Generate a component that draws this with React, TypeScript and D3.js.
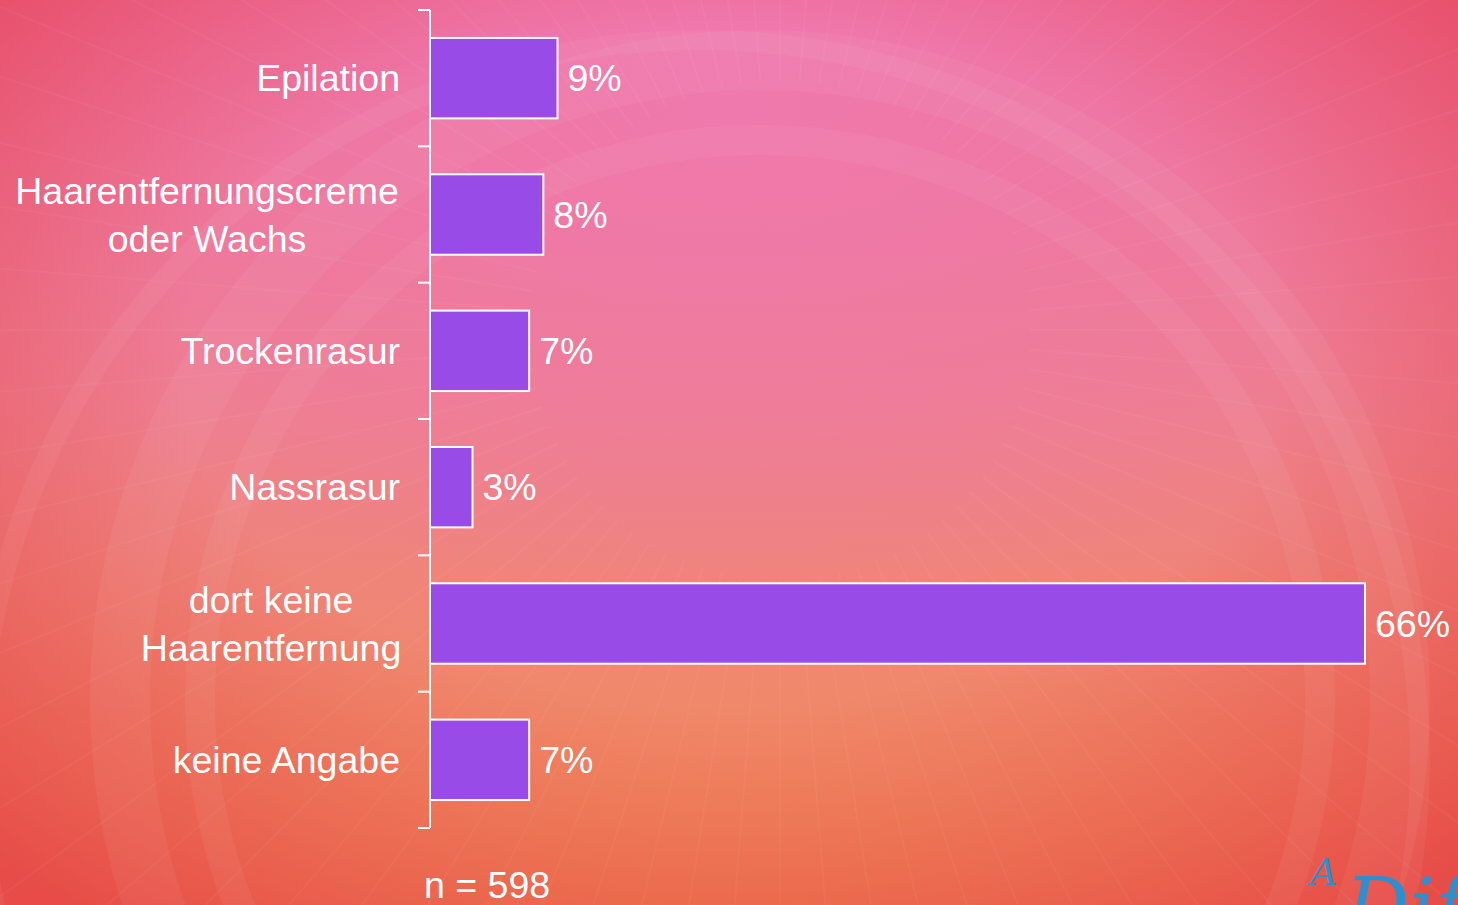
import React from "react";
import * as d3 from "d3";

const categories = [
  ["Epilation"],
  ["Haarentfernungscreme", "oder Wachs"],
  ["Trockenrasur"],
  ["Nassrasur"],
  ["dort keine", "Haarentfernung"],
  ["keine Angabe"],
];
const values = [9, 8, 7, 3, 66, 7];
const sampleNote = "n = 598";

const W = 1458;
const H = 905;

const App = () => {
  const keys = categories.map((c, i) => String(i));
  const y = d3.scaleBand().domain(keys).range([10, 828]).paddingInner(0.41).paddingOuter(0.205);
  const x = d3.scaleLinear().domain([0, 66]).range([430, 1365]);
  const step = y.step();
  const ticks = d3.range(categories.length + 1).map((i) => 10 + i * step);

  // background decoration
  const rayAngles = d3.range(0, 360, 4.5);
  const arcs = [
    { cx: 760, cy: 700, r: 640, w: 60 },
    { cx: 760, cy: 700, r: 560, w: 30 },
    { cx: 700, cy: 760, r: 720, w: 20 },
  ];

  return (
    <svg width={W} height={H} style={{ position: "absolute", left: 0, top: 0 }} fontFamily="'Liberation Sans', Arial, sans-serif">
      <defs>
        <linearGradient id="bgLin" x1="0" y1="0" x2="0" y2="1">
          <stop offset="0" stopColor="#ed6f9f" />
          <stop offset="0.45" stopColor="#ee7e8e" />
          <stop offset="0.8" stopColor="#f08a68" />
          <stop offset="1" stopColor="#f29658" />
        </linearGradient>
        <radialGradient id="glow" cx="0.5" cy="0.12" r="0.55">
          <stop offset="0" stopColor="#f07ab0" stopOpacity="0.85" />
          <stop offset="1" stopColor="#f07ab0" stopOpacity="0" />
        </radialGradient>
        <radialGradient id="edge" cx="0.5" cy="0.4" r="0.75">
          <stop offset="0.5" stopColor="#e43a44" stopOpacity="0" />
          <stop offset="1" stopColor="#e43a44" stopOpacity="0.8" />
        </radialGradient>
      </defs>
      <rect width={W} height={H} fill="url(#bgLin)" />
      <rect width={W} height={H} fill="url(#glow)" />
      <rect width={W} height={H} fill="url(#edge)" />
      <g stroke="#ffffff" strokeOpacity={0.04}>
        {rayAngles.map((a) => {
          const rad = (a * Math.PI) / 180;
          return (
            <line
              key={a}
              x1={780 + 250 * Math.cos(rad)}
              y1={330 + 250 * Math.sin(rad)}
              x2={780 + 1600 * Math.cos(rad)}
              y2={330 + 1600 * Math.sin(rad)}
              strokeWidth={2}
            />
          );
        })}
      </g>
      <g fill="none" stroke="#ffffff" strokeOpacity={0.05}>
        {arcs.map((c, i) => (
          <circle key={i} cx={c.cx} cy={c.cy} r={c.r} strokeWidth={c.w} />
        ))}
      </g>

      {/* axis */}
      <g stroke="#ffffff" strokeWidth={2} fill="none">
        <line x1={430} x2={430} y1={10} y2={828} />
        {ticks.map((t) => (
          <line key={t} x1={418} x2={430} y1={t} y2={t} />
        ))}
      </g>

      {/* bars */}
      {values.map((v, i) => (
        <rect
          key={i}
          x={x(0)}
          y={y(String(i))}
          width={x(v) - x(0)}
          height={y.bandwidth()}
          fill="#994be8"
          stroke="#ffffff"
          strokeWidth={2}
        />
      ))}

      {/* value labels */}
      {values.map((v, i) => (
        <text
          key={i}
          x={x(v) + 10}
          y={(y(String(i)) as number) + y.bandwidth() / 2 + 13}
          fill="#ffffff"
          fontSize={37.5}
        >
          {v}%
        </text>
      ))}

      {/* category labels */}
      {categories.map((lines, i) => {
        const cy = (y(String(i)) as number) + y.bandwidth() / 2;
        const isMulti = lines.length > 1;
        return (
          <text key={i} fill="#ffffff" fontSize={37.5} textAnchor={isMulti ? "middle" : "end"}>
            {lines.map((l, j) => (
              <tspan
                key={j}
                x={isMulti ? (i === 1 ? 207 : 271) : 400}
                y={cy + 13 + (j - (lines.length - 1) / 2) * 48}
              >
                {l}
              </tspan>
            ))}
          </text>
        );
      })}

      <text x={424} y={898} fill="#ffffff" fontSize={37.5}>
        {sampleNote}
      </text>

      {/* logo fragment */}
      <text x={1310} y={885} fill="#2f8fcc" fontSize={38} fontStyle="italic" fontFamily="'DejaVu Serif', serif">
        A
      </text>
      <text x={1345} y={935} fill="#2f8fcc" fontSize={80} fontStyle="italic" fontFamily="'DejaVu Serif', serif">
        Diff
      </text>
    </svg>
  );
};

export default App;
